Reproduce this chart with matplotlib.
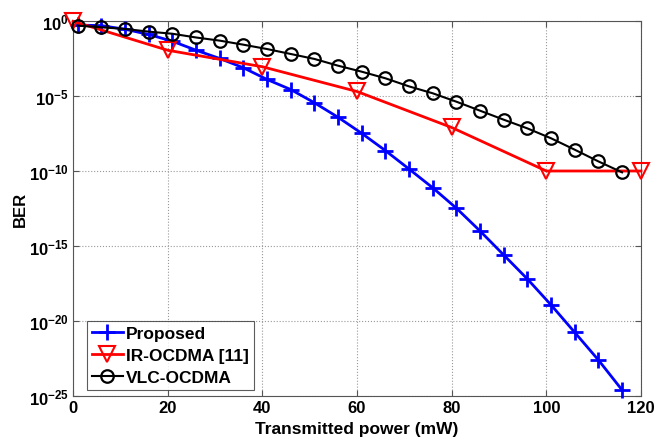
import numpy as np
import matplotlib
matplotlib.use("Agg")
import matplotlib.pyplot as plt
from matplotlib.ticker import FixedLocator, FuncFormatter

plt.rcParams['font.family'] = ['Liberation Sans', 'DejaVu Sans']
plt.rcParams['font.weight'] = 'bold'
plt.rcParams['mathtext.fontset'] = 'custom'
plt.rcParams['mathtext.rm'] = 'Liberation Sans:bold'
plt.rcParams['mathtext.bf'] = 'Liberation Sans:bold'
plt.rcParams['mathtext.default'] = 'bf'

# data (log10 of BER)
power_prop = [1, 6, 11, 16, 21, 26, 31, 36, 41, 46, 51, 56, 61, 66, 71, 76, 81, 86, 91, 96, 101, 106, 111, 116]
logber_prop = [-0.27, -0.31, -0.55, -0.9, -1.35, -1.95, -2.5, -3.12, -3.9, -4.57, -5.45, -6.42, -7.49, -8.64,
               -9.87, -11.12, -12.48, -14.0, -15.6, -17.2, -18.93, -20.76, -22.6, -24.6]
power_ir = [0, 20, 40, 60, 80, 100, 120]
logber_ir = [-0.02, -1.95, -3.05, -4.7, -7.1, -10.0, -10.0]
power_vlc = power_prop
logber_vlc = [-0.31, -0.42, -0.53, -0.71, -0.85, -1.1, -1.31, -1.58, -1.87, -2.2, -2.53, -2.98, -3.38, -3.82,
              -4.36, -4.82, -5.38, -5.98, -6.58, -7.16, -7.82, -8.58, -9.36, -10.09]
names = ['Proposed', 'IR-OCDMA [11]', 'VLC-OCDMA']

fig = plt.figure(figsize=(6.55, 4.39), dpi=100)
ax = fig.add_axes([0.1115, 0.0957, 0.8671, 0.8542])

ax.semilogy(power_prop, 10.0 ** np.array(logber_prop), color='b', lw=2, marker='+',
            ms=11, mew=2, label=names[0], clip_on=False, zorder=3)
ax.semilogy(power_ir, 10.0 ** np.array(logber_ir), color='r', lw=2, marker='v',
            ms=11, mew=1.5, mfc='none', label=names[1], clip_on=False, zorder=3)
ax.semilogy(power_vlc, 10.0 ** np.array(logber_vlc), color='k', lw=1.5, marker='o',
            ms=9, mew=1.6, mfc='none', label=names[2], clip_on=False, zorder=3)

ax.set_xlim(0, 120)
ax.set_ylim(1e-25, 1e0)
ax.set_xticks([0, 20, 40, 60, 80, 100, 120])
ax.yaxis.set_major_locator(FixedLocator([10.0 ** e for e in range(-25, 1, 5)]))
ax.yaxis.set_minor_locator(FixedLocator([]))
ax.yaxis.set_major_formatter(FuncFormatter(lambda v, p: r'$\mathbf{10^{%d}}$' % round(np.log10(v))))
ax.tick_params(direction='in', top=True, right=True, labelsize=12, length=4, color='#555555', pad=3)
for lab in ax.get_xticklabels():
    lab.set_fontweight('bold')
for s in ax.spines.values():
    s.set_color('#555555')
    s.set_linewidth(0.8)

ax.grid(True, which='major', linestyle=':', color='#999999', linewidth=0.8)
ax.set_axisbelow(True)

ax.set_xlabel('Transmitted power (mW)', fontsize=12.5, fontweight='bold', labelpad=4)
ax.set_ylabel('BER', fontsize=12, fontweight='bold', labelpad=1)

leg = ax.legend(loc='lower left', fontsize=12.5, frameon=True, fancybox=False,
                edgecolor='#333333', borderpad=0.3, labelspacing=0.4, handlelength=1.8,
                handletextpad=0.15, borderaxespad=0, bbox_to_anchor=(0.024, 0.015))
leg.get_frame().set_linewidth(0.8)
for t in leg.get_texts():
    t.set_fontweight('bold')

fig.savefig('out.png', dpi=100)
